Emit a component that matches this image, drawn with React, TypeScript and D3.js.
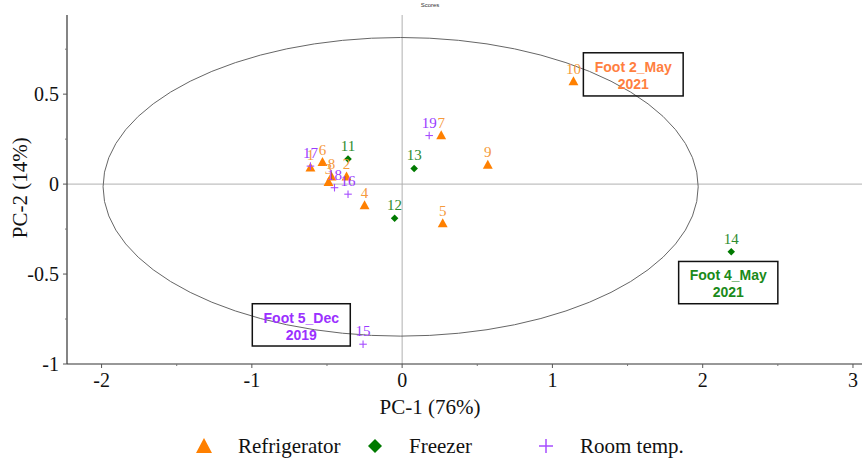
import React from 'react';
import * as d3 from 'd3';

interface Sample {
  id: string;
  group: string;
  pc1: number;
  pc2: number;
}

const groups = ['Refrigerator', 'Freezer', 'Room temp.'];
const groupColor: Record<string, string> = {
  'Refrigerator': '#ff8000',
  'Freezer': '#007a00',
  'Room temp.': '#a64dff'
};
const labelColor: Record<string, string> = {
  'Refrigerator': '#f59a3c',
  'Freezer': '#2e8b2e',
  'Room temp.': '#9a3cff'
};
const noteColor: Record<string, string> = {
  'Refrigerator': '#ff7f3f',
  'Freezer': '#1a8a1a',
  'Room temp.': '#9b30ff'
};

const sampleIds = ['1', '2', '3', '4', '5', '6', '7', '8', '9', '10', '11', '12', '13', '14', '15', '16', '17', '18', '19'];
const sampleGroups = [
  'Refrigerator', 'Refrigerator', 'Refrigerator', 'Refrigerator', 'Refrigerator', 'Refrigerator',
  'Refrigerator', 'Refrigerator', 'Refrigerator', 'Refrigerator',
  'Freezer', 'Freezer', 'Freezer', 'Freezer',
  'Room temp.', 'Room temp.', 'Room temp.', 'Room temp.', 'Room temp.'
];
const pc1Values = [-0.61, -0.37, -0.49, -0.25, 0.27, -0.53, 0.26, -0.47, 0.57, 1.14, -0.36, -0.05, 0.08, 2.19, -0.26, -0.36, -0.61, -0.45, 0.18];
const pc2Values = [0.09, 0.04, 0.01, -0.12, -0.22, 0.12, 0.27, 0.04, 0.105, 0.57, 0.14, -0.19, 0.087, -0.376, -0.89, -0.056, 0.10, -0.02, 0.27];

const samples: Sample[] = sampleIds.map((id, i) => ({
  id, group: sampleGroups[i], pc1: pc1Values[i], pc2: pc2Values[i]
}));

// annotation boxes: [x0, y0, x1, y1] in score units
const noteLines = [['Foot 2_May', '2021'], ['Foot 4_May', '2021'], ['Foot 5_Dec', '2019']];
const noteGroups = ['Refrigerator', 'Freezer', 'Room temp.'];
const noteBoxes = [[1.206, 0.73, 1.87, 0.49], [1.84, -0.43, 2.50, -0.665], [-0.997, -0.665, -0.345, -0.9]];

const xTicks = [-2, -1, 0, 1, 2, 3];
const xMinor = [-1.5, -0.5, 0.5, 1.5, 2.5];
const yTicks = [-1, -0.5, 0, 0.5];
const yMinor = [-0.75, -0.25, 0.25, 0.75];

// Hotelling T2 ellipse (center, radii)
const ellipse = { cx: -0.01, cy: -0.015, rx: 1.98, ry: 0.83 };

const width = 865;
const height = 459;
const marginLeft = 67;
const marginRight = 3;
const marginTop = 15;
const plotBottom = 364;

const serifStyle = { fontFamily: 'Liberation Serif' };
const sansStyle = { fontFamily: 'Liberation Sans' };

const Marker: React.FC<{ group: string; x: number; y: number; size: number }> = ({ group, x, y, size }) => {
  const c = groupColor[group];
  if (group === 'Refrigerator') {
    const s = size;
    return <path d={`M${x},${y - s * 0.6}L${x + s * 0.55},${y + s * 0.4}L${x - s * 0.55},${y + s * 0.4}Z`} fill={c} />;
  }
  if (group === 'Freezer') {
    const s = size * 0.42;
    return <path d={`M${x},${y - s}L${x + s},${y}L${x},${y + s}L${x - s},${y}Z`} fill={c} />;
  }
  const s = size * 0.42;
  return (
    <g stroke={c} strokeWidth={1.1}>
      <line x1={x - s} x2={x + s} y1={y} y2={y} />
      <line x1={x} x2={x} y1={y - s} y2={y + s} />
    </g>
  );
};

const App: React.FC = () => {
  const x = d3.scaleLinear().domain([-2.23, 3.06]).range([marginLeft, width - marginRight]);
  const y = d3.scaleLinear().domain([-1, 0.94]).range([plotBottom, marginTop]);

  const legendX = [204, 375, 546];

  return (
    <svg width={width} height={height} style={{ position: 'absolute', left: 0, top: 0, background: '#fff' }}>
      <text x={430} y={7} fontSize={6} style={sansStyle} textAnchor="middle" fill="#333">Scores</text>

      {/* zero lines */}
      <line x1={x(0)} x2={x(0)} y1={marginTop} y2={plotBottom} stroke="#b0b0b0" strokeWidth={1} />
      <line x1={marginLeft} x2={width - marginRight} y1={y(0)} y2={y(0)} stroke="#b0b0b0" strokeWidth={1} />

      <ellipse
        cx={x(ellipse.cx)} cy={y(ellipse.cy)}
        rx={x(ellipse.rx) - x(0)} ry={y(0) - y(ellipse.ry)}
        fill="none" stroke="#666" strokeWidth={1}
      />

      {/* axes */}
      <line x1={marginLeft} x2={marginLeft} y1={marginTop} y2={plotBottom} stroke="#333" strokeWidth={1.2} />
      <line x1={marginLeft} x2={width - marginRight} y1={plotBottom} y2={plotBottom} stroke="#333" strokeWidth={1.2} />
      {xTicks.map(t => (
        <g key={`xt${t}`}>
          <line x1={x(t)} x2={x(t)} y1={plotBottom} y2={plotBottom + 4} stroke="#555" />
          <text x={x(t)} y={plotBottom + 23} fontSize={20} style={serifStyle} textAnchor="middle" fill="#111">
            {t < 0 ? `-${Math.abs(t)}` : t}
          </text>
        </g>
      ))}
      {xMinor.map(t => (
        <line key={`xm${t}`} x1={x(t)} x2={x(t)} y1={plotBottom} y2={plotBottom + 2} stroke="#777" />
      ))}
      {yTicks.map(t => (
        <g key={`yt${t}`}>
          <line x1={marginLeft - 4} x2={marginLeft} y1={y(t)} y2={y(t)} stroke="#555" />
          <text x={marginLeft - 8} y={y(t) + 7} fontSize={20} style={serifStyle} textAnchor="end" fill="#111">
            {t < 0 ? `-${Math.abs(t)}` : t}
          </text>
        </g>
      ))}
      {yMinor.map(t => (
        <line key={`ym${t}`} x1={marginLeft - 2} x2={marginLeft} y1={y(t)} y2={y(t)} stroke="#777" />
      ))}

      <text x={430} y={414} fontSize={21} style={serifStyle} textAnchor="middle" fill="#111">PC-1 (76%)</text>
      <text transform={`translate(27,${y(-0.02)}) rotate(-90)`} fontSize={21} style={serifStyle} textAnchor="middle" fill="#111">PC-2 (14%)</text>

      {/* sample points */}
      {samples.map(d => (
        <g key={d.id}>
          <Marker group={d.group} x={x(d.pc1)} y={y(d.pc2)} size={9} />
        </g>
      ))}
      {samples.map(d => (
        <text key={`l${d.id}`} x={x(d.pc1)} y={y(d.pc2) - 8} fontSize={15} style={serifStyle}
          textAnchor="middle" fill={labelColor[d.group]}>{d.id}</text>
      ))}

      {/* annotation boxes */}
      {noteBoxes.map((b, i) => {
        const x0 = x(b[0]);
        const y0 = y(b[1]);
        const w = x(b[2]) - x0;
        const h = y(b[3]) - y0;
        return (
          <g key={`n${i}`}>
            <rect x={x0} y={y0} width={w} height={h} fill="none" stroke="#111" strokeWidth={1.5} />
            {noteLines[i].map((ln, j) => (
              <text key={j} x={x0 + w / 2} y={y0 + 19 + j * 17} fontSize={14} fontWeight="bold"
                style={sansStyle} textAnchor="middle" fill={noteColor[noteGroups[i]]}>
                {ln}
              </text>
            ))}
          </g>
        );
      })}

      {/* legend */}
      {groups.map((g, i) => (
        <g key={g}>
          {g === 'Refrigerator' && <path d={`M${legendX[i]},${438}L${legendX[i] + 8},${453}L${legendX[i] - 8},${453}Z`} fill={groupColor[g]} />}
          {g === 'Freezer' && <path d={`M${legendX[i]},${439}L${legendX[i] + 7},${446}L${legendX[i]},${453}L${legendX[i] - 7},${446}Z`} fill={groupColor[g]} />}
          {g === 'Room temp.' && (
            <g stroke={groupColor[g]} strokeWidth={1.5}>
              <line x1={legendX[i] - 7} x2={legendX[i] + 7} y1={446} y2={446} />
              <line x1={legendX[i]} x2={legendX[i]} y1={439} y2={453} />
            </g>
          )}
          <text x={legendX[i] + 34} y={453} fontSize={21} style={serifStyle} fill="#111">{g}</text>
        </g>
      ))}
    </svg>
  );
};

export default App;
